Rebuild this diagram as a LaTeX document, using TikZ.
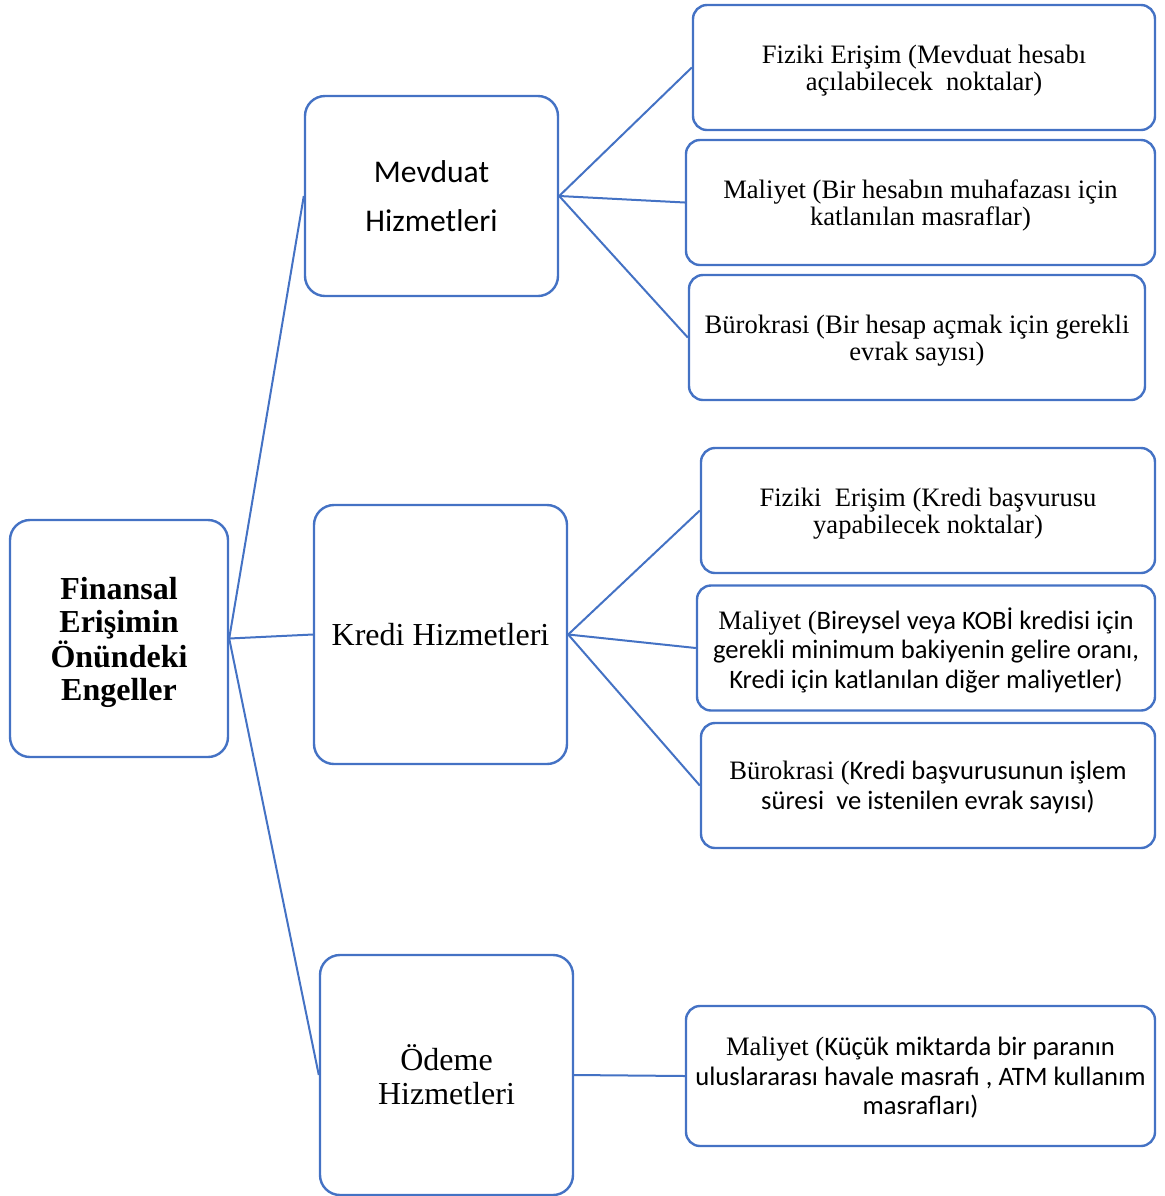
\documentclass[tikz,border=0pt]{standalone}
\usepackage{fontspec}
\setmainfont{Liberation Serif}
\newfontfamily\calibri{Carlito}
\usepackage{tikz}
\usepackage{xcolor}
\definecolor{boxblue}{HTML}{4472C4}

\begin{document}
\begin{tikzpicture}[x=0.5pt,y=-0.5pt,
  box/.style={draw=boxblue, line width=1.2pt, align=center, inner sep=0pt, text depth=-1pt},
  bigbox/.style={box, rounded corners=10pt, minimum width=126.5pt},
  leafbox/.style={box, rounded corners=7pt, minimum height=62.5pt},
  serifleaf/.style={leafbox, font=\fontsize{13.3}{13.7}\selectfont},
  mixleaf/.style={leafbox, font=\fontsize{13.3}{14.75}\selectfont},
  link/.style={draw=boxblue, line width=1pt}]
\useasboundingbox (0,0) rectangle (1165,1196);
\node[box, rounded corners=10pt, minimum width=109pt, minimum height=118.5pt, font=\bfseries\fontsize{16}{16.5}\selectfont] (engel) at (119,638.5) {Finansal\\Erişimin\\Önündeki\\Engeller};
\node[bigbox, minimum height=100pt, font=\calibri\fontsize{15.8}{24.5}\selectfont] (mevduat) at (431.5,196) {Mevduat\\Hizmetleri};
\node[bigbox, minimum height=129.5pt, font=\fontsize{16}{18}\selectfont] (kredi) at (440.5,634.5) {Kredi Hizmetleri};
\node[bigbox, minimum height=120pt, font=\fontsize{16}{17}\selectfont] (odeme) at (446.5,1075) {Ödeme\\Hizmetleri};

\node[serifleaf, minimum width=231pt] (mfiz) at (924,67.5) {Fiziki Erişim (Mevduat hesabı\\açılabilecek\ \ noktalar)};
\node[serifleaf, minimum width=234.5pt] (mmal) at (920.5,202.5) {Maliyet (Bir hesabın muhafazası için\\katlanılan masraflar)};
\node[serifleaf, minimum width=228pt] (mbur) at (917,337.5) {Bürokrasi (Bir hesap açmak için gerekli\\evrak sayısı)};

\node[serifleaf, minimum width=227pt] (kfiz) at (928,510.5) {Fiziki\ \ Erişim (Kredi başvurusu\\yapabilecek noktalar)};
\node[mixleaf, minimum width=229pt] (kmal) at (926,648) {Maliyet ({\calibri Bireysel veya KOBİ kredisi için}\\{\calibri gerekli minimum bakiyenin gelire oranı,}\\{\calibri Kredi için katlanılan diğer maliyetler)}};
\node[mixleaf, minimum width=227pt] (kbur) at (928,785.5) {Bürokrasi ({\calibri Kredi başvurusunun işlem}\\{\calibri süresi\ \ ve istenilen evrak sayısı)}};

\node[mixleaf, minimum width=234.5pt, minimum height=70pt] (omal) at (920.5,1076) {Maliyet ({\calibri Küçük miktarda bir paranın}\\{\calibri uluslararası havale masrafı , ATM kullanım}\\{\calibri masrafları)}};

\draw[link] (engel.east) -- (mevduat.west);
\draw[link] (engel.east) -- (kredi.west);
\draw[link] (engel.east) -- (odeme.west);
\draw[link] (mevduat.east) -- (mfiz.west);
\draw[link] (mevduat.east) -- (mmal.west);
\draw[link] (mevduat.east) -- (mbur.west);
\draw[link] (kredi.east) -- (kfiz.west);
\draw[link] (kredi.east) -- (kmal.west);
\draw[link] (kredi.east) -- (kbur.west);
\draw[link] (odeme.east) -- (omal.west);
\end{tikzpicture}
\end{document}
